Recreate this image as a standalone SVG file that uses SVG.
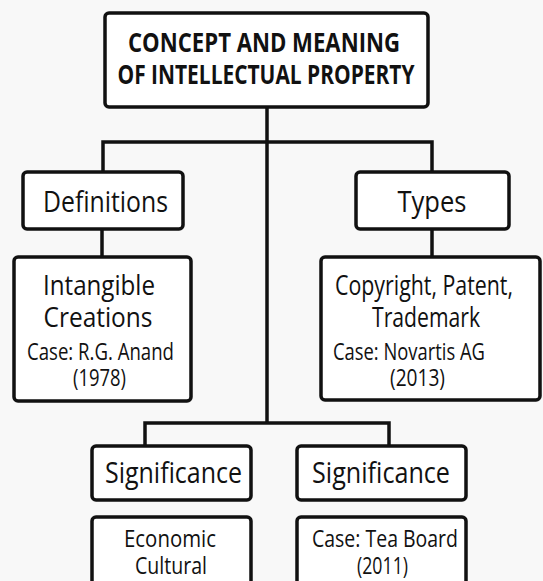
<svg xmlns="http://www.w3.org/2000/svg" width="543" height="581" viewBox="0 0 543 581">
<style>
.box{fill:#ffffff;stroke:#111;stroke-width:3.5}
.ln{fill:none;stroke:#111;stroke-width:3.5}
text{font-family:"Open Sans","Noto Sans","Liberation Sans",sans-serif;fill:#111;text-anchor:middle;font-weight:500}
.t{font-size:26px;font-weight:bold}
.h{font-size:29px}
.b{font-size:28px}
.s{font-size:23px}
</style>
<rect width="543" height="581" fill="#f8f8f8"/>
<g id="connectors">
<path class="ln" d="M267 107 V423"/>
<path class="ln" d="M103 172 V142 H432 V172"/>
<path class="ln" d="M102 229 V257"/>
<path class="ln" d="M432 229 V257"/>
<path class="ln" d="M145 446 V423 H389 V446"/>
</g>
<g id="title">
<rect class="box" x="105" y="13" width="323" height="94" rx="4"/>
<text class="t" x="264" y="52" textLength="272" lengthAdjust="spacingAndGlyphs">CONCEPT AND MEANING</text>
<text class="t" x="266" y="84" textLength="297" lengthAdjust="spacingAndGlyphs">OF INTELLECTUAL PROPERTY</text>
</g>
<g id="definitions">
<rect class="box" x="23" y="172" width="160" height="57" rx="4"/>
<text class="h" x="105.5" y="212" textLength="125" lengthAdjust="spacingAndGlyphs">Definitions</text>
</g>
<g id="types">
<rect class="box" x="356" y="172" width="153" height="57" rx="4"/>
<text class="h" x="432" y="212" textLength="69" lengthAdjust="spacingAndGlyphs">Types</text>
</g>
<g id="intangible">
<rect class="box" x="14" y="257" width="177" height="144" rx="4"/>
<text class="b" x="99" y="295" textLength="112" lengthAdjust="spacingAndGlyphs">Intangible</text>
<text class="b" x="98" y="327" textLength="109" lengthAdjust="spacingAndGlyphs">Creations</text>
<text class="s" x="100.5" y="360" textLength="147" lengthAdjust="spacingAndGlyphs">Case: R.G. Anand</text>
<text class="s" x="99.5" y="386" textLength="53" lengthAdjust="spacingAndGlyphs">(1978)</text>
</g>
<g id="copyright">
<rect class="box" x="321" y="257" width="219" height="143" rx="4"/>
<text class="b" x="424" y="295" textLength="178" lengthAdjust="spacingAndGlyphs">Copyright, Patent,</text>
<text class="b" x="426" y="327" textLength="108" lengthAdjust="spacingAndGlyphs">Trademark</text>
<text class="s" x="409" y="360" textLength="152" lengthAdjust="spacingAndGlyphs">Case: Novartis AG</text>
<text class="s" x="417.5" y="386" textLength="55" lengthAdjust="spacingAndGlyphs">(2013)</text>
</g>
<g id="significance1">
<rect class="box" x="92" y="446" width="159" height="54" rx="4"/>
<text class="h" x="173.5" y="483" textLength="137" lengthAdjust="spacingAndGlyphs">Significance</text>
</g>
<g id="significance2">
<rect class="box" x="297" y="446" width="169" height="54" rx="4"/>
<text class="h" x="381" y="483" textLength="138" lengthAdjust="spacingAndGlyphs">Significance</text>
</g>
<g id="economic">
<rect class="box" x="92" y="517" width="159" height="80" rx="4"/>
<text class="s" x="170" y="547" textLength="92" lengthAdjust="spacingAndGlyphs">Economic</text>
<text class="s" x="171" y="574" textLength="72" lengthAdjust="spacingAndGlyphs">Cultural</text>
</g>
<g id="teaboard">
<rect class="box" x="297" y="517" width="169" height="80" rx="4"/>
<text class="s" x="385" y="547" textLength="146" lengthAdjust="spacingAndGlyphs">Case: Tea Board</text>
<text class="s" x="382.5" y="574" textLength="51" lengthAdjust="spacingAndGlyphs">(2011)</text>
</g>
</svg>
